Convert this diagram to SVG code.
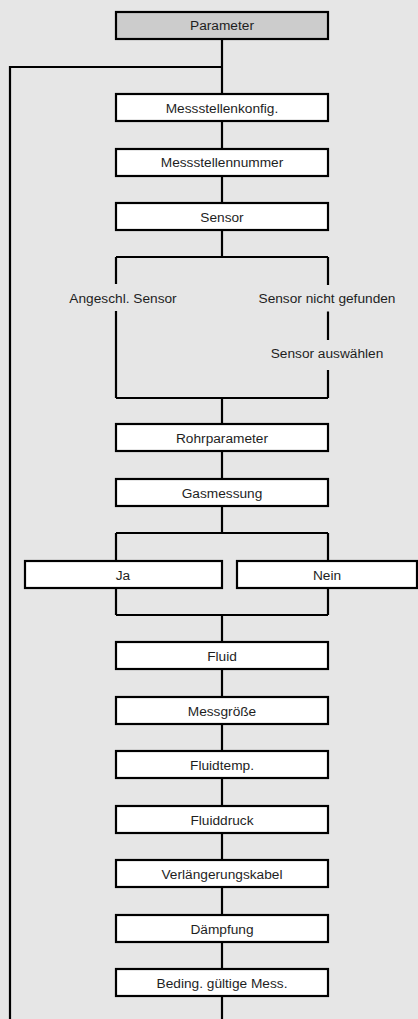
<svg xmlns="http://www.w3.org/2000/svg" width="418" height="1019" viewBox="0 0 418 1019">
<style>
.bg{fill:#e6e6e6}
.box{fill:#ffffff;stroke:#000;stroke-width:2.2}
.hdr{fill:#cccccc;stroke:#000;stroke-width:2.2}
.t{font-family:"Liberation Sans",Arial,sans-serif;font-size:13.7px;fill:#1e1e1e;text-anchor:middle}
.c{fill:none;stroke:#000;stroke-width:2.2}
</style>
<rect class="bg" x="0" y="0" width="418" height="1019"/>
<g id="connectors">
<path class="c" d="M222 39V94M10 1019V67H222M222 121V149M222 176V203M222 230V257M116 257H328M116 257V284M116 311V398M328 257V285M328 311.5V340M328 370V398M116 398H328M222 398V424M222 451V479M222 506V533M116 533H328M116 533V561M328 533V561M116 588V615M328 588V615M116 615H328M222 615V642M222 669V697M222 724V751M222 778V806M222 833V860M222 887V915M222 942V969M222 996V1019"/>
</g>
<g id="n-parameter"><rect class="hdr" x="116" y="12" width="212" height="27"/><text class="t" x="222" y="30">Parameter</text></g>
<g id="n-messstellenkonfig"><rect class="box" x="116" y="94" width="212" height="27"/><text class="t" x="222" y="112.5">Messstellenkonfig.</text></g>
<g id="n-messstellennummer"><rect class="box" x="116" y="149" width="212" height="27"/><text class="t" x="222" y="167">Messstellennummer</text></g>
<g id="n-sensor"><rect class="box" x="116" y="203" width="212" height="27"/><text class="t" x="222" y="221.5">Sensor</text></g>
<g id="n-angeschl"><text class="t" x="123" y="302.5">Angeschl. Sensor</text></g>
<g id="n-nichtgefunden"><text class="t" x="327" y="302.5">Sensor nicht gefunden</text></g>
<g id="n-auswaehlen"><text class="t" x="327" y="357.5">Sensor auswählen</text></g>
<g id="n-rohrparameter"><rect class="box" x="116" y="424" width="212" height="27"/><text class="t" x="222" y="442.5">Rohrparameter</text></g>
<g id="n-gasmessung"><rect class="box" x="116" y="479" width="212" height="27"/><text class="t" x="222" y="497.5">Gasmessung</text></g>
<g id="n-ja"><rect class="box" x="25" y="561" width="197" height="27"/><text class="t" x="123" y="579.5">Ja</text></g>
<g id="n-nein"><rect class="box" x="237" y="561" width="180" height="27"/><text class="t" x="327" y="579.5">Nein</text></g>
<g id="n-fluid"><rect class="box" x="116" y="642" width="212" height="27"/><text class="t" x="222" y="660.5">Fluid</text></g>
<g id="n-messgroesse"><rect class="box" x="116" y="697" width="212" height="27"/><text class="t" x="222" y="715.5">Messgröße</text></g>
<g id="n-fluidtemp"><rect class="box" x="116" y="751" width="212" height="27"/><text class="t" x="222" y="769.5">Fluidtemp.</text></g>
<g id="n-fluiddruck"><rect class="box" x="116" y="806" width="212" height="27"/><text class="t" x="222" y="824.5">Fluiddruck</text></g>
<g id="n-verlaengerungskabel"><rect class="box" x="116" y="860" width="212" height="27"/><text class="t" x="222" y="878.5">Verlängerungskabel</text></g>
<g id="n-daempfung"><rect class="box" x="116" y="915" width="212" height="27"/><text class="t" x="222" y="933.5">Dämpfung</text></g>
<g id="n-beding"><rect class="box" x="116" y="969" width="212" height="27"/><text class="t" x="222" y="987.5">Beding. gültige Mess.</text></g>
</svg>
